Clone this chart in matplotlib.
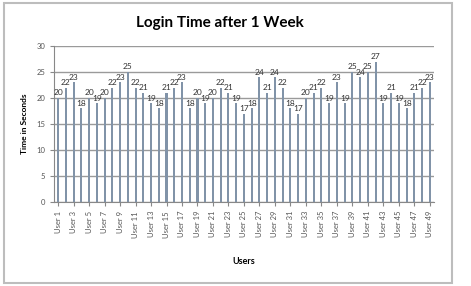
import matplotlib
matplotlib.use("Agg")
import matplotlib.pyplot as plt
from matplotlib.patches import Rectangle

users = [f"User {i}" for i in range(1, 50)]
login_time = [20, 22, 23, 18, 20, 19, 20, 22, 23, 25,
              22, 21, 19, 18, 21, 22, 23, 18, 20, 19,
              20, 22, 21, 19, 17, 18, 24, 21, 24, 22,
              18, 17, 20, 21, 22, 19, 23, 19, 25, 24,
              25, 27, 19, 21, 19, 18, 21, 22, 23]
y_ticks = [0, 5, 10, 15, 20, 25, 30]

plt.rcParams["font.family"] = ["Lato", "DejaVu Sans"]

fig = plt.figure(figsize=(4.71, 2.86), dpi=100)
ax = fig.add_axes([0.115, 0.294, 0.806, 0.545])

x = range(len(users))
ax.bar(x, login_time, width=0.26, color="#8193a8", zorder=3)
for i, v in zip(x, login_time):
    ax.text(i, v + 0.3, str(v), ha="center", va="bottom", fontsize=6,
            color="#333333", zorder=4)

ax.set_xlim(-0.5, len(users) - 0.5)
ax.set_ylim(0, 30)
ax.set_yticks(y_ticks)
ax.set_yticklabels([str(t) for t in y_ticks], fontsize=5.5, color="#555555")
ax.set_xticks(list(x)[::2])
ax.set_xticklabels(users[::2], rotation=90, fontsize=5.5, color="#555555")
ax.grid(axis="y", color="#9a9a9a", linewidth=1.0, zorder=0)
ax.tick_params(axis="both", length=3, color="#888888", width=0.8)
for side in ["top", "right"]:
    ax.spines[side].set_visible(False)
ax.spines["left"].set_color("#888888")
ax.spines["bottom"].set_color("#888888")

ax.set_xlabel("Users", fontsize=6.5, fontweight="bold", labelpad=14)
ax.set_ylabel("Time in Seconds", fontsize=6, fontweight="bold", labelpad=6)
fig.text(0.467, 0.92, "Login Time after 1 Week", ha="center", va="center",
         fontsize=11, fontweight="bold")

# outer chart border
fig.patches.append(Rectangle((0.008, 0.012), 0.952, 0.976, transform=fig.transFigure,
                             fill=False, edgecolor="#bdbdbd", linewidth=1.5))

fig.savefig("out.png", dpi=100)
